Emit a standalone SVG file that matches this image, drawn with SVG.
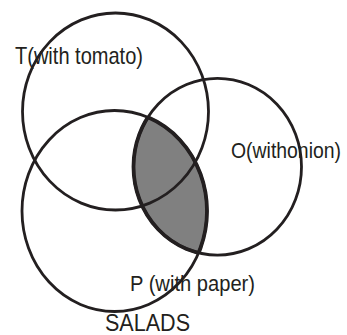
<svg xmlns="http://www.w3.org/2000/svg" width="347" height="335" viewBox="0 0 347 335">
<style>
.c{fill:none;stroke:#231f20;stroke-width:2.8}
.lens{fill:none;stroke:#231f20;stroke-width:3.8}
.t{font-family:"Liberation Sans",Arial,sans-serif;fill:#231f20}
</style>
<defs>
<clipPath id="clipO"><ellipse cx="217.5" cy="166.7" rx="84" ry="88.4"/></clipPath>
<clipPath id="clipP"><ellipse cx="114.5" cy="211" rx="92.5" ry="100.5"/></clipPath>
</defs>
<g id="shade">
<ellipse cx="114.5" cy="211" rx="92.5" ry="100.5" fill="#808080" clip-path="url(#clipO)"/>
</g>
<g id="T">
<ellipse class="c" cx="115.5" cy="111.5" rx="93" ry="98.5"/>
<text class="t" x="15" y="63.5" font-size="24" textLength="128" lengthAdjust="spacingAndGlyphs">T(with tomato)</text>
</g>
<g id="O">
<ellipse class="c" cx="217.5" cy="166.7" rx="84" ry="88.4"/>
<text class="t" x="231" y="158" font-size="22" textLength="110" lengthAdjust="spacingAndGlyphs">O(withonion)</text>
</g>
<g id="P">
<ellipse class="c" cx="114.5" cy="211" rx="92.5" ry="100.5"/>
<text class="t" x="130" y="291" font-size="22" textLength="125" lengthAdjust="spacingAndGlyphs">P (with paper)</text>
</g>
<g id="lens-outline">
<ellipse class="lens" cx="217.5" cy="166.7" rx="84" ry="88.4" clip-path="url(#clipP)"/>
<ellipse class="lens" cx="114.5" cy="211" rx="92.5" ry="100.5" clip-path="url(#clipO)"/>
</g>
<g id="label">
<text class="t" x="105" y="331" font-size="23" textLength="85" lengthAdjust="spacingAndGlyphs">SALADS</text>
</g>
</svg>
